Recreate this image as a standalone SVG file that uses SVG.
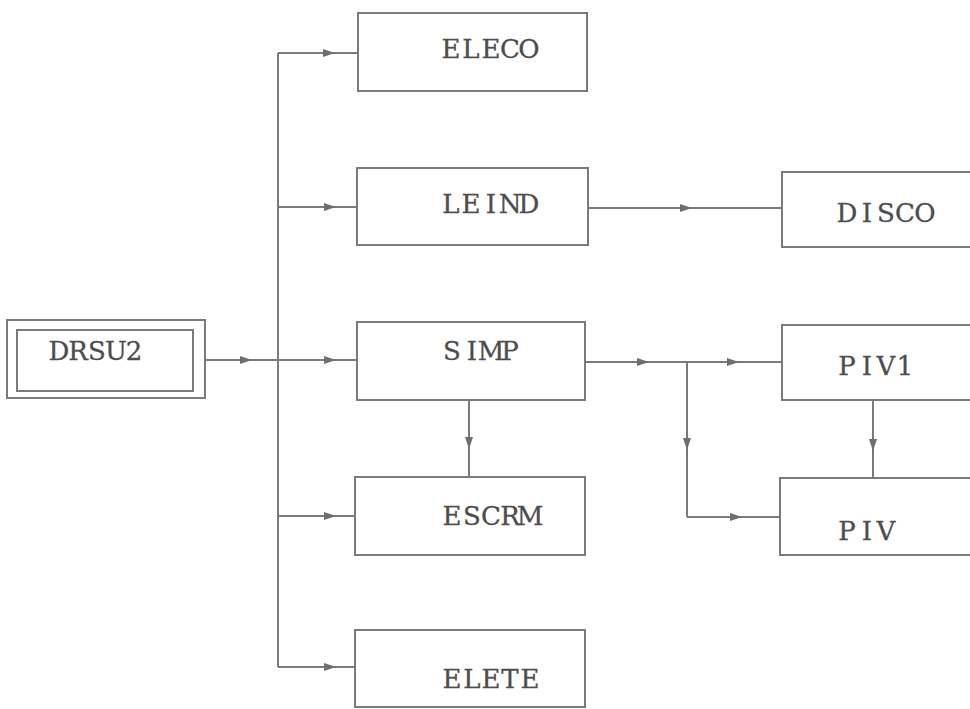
<svg xmlns="http://www.w3.org/2000/svg" width="970" height="709" viewBox="0 0 970 709">
<style>
.box{fill:#fff;stroke:#7a7a7a;stroke-width:2}
.lbl{font-family:"DejaVu Serif","Liberation Serif",serif;font-size:26px;text-anchor:middle;fill:#4d4d4d;stroke:#4d4d4d;stroke-width:0.3}
.con{fill:none;stroke:#7a7a7a;stroke-width:2;marker-mid:url(#ah)}
</style>
<defs>
<marker id="ah" viewBox="0 0 12 8" refX="12" refY="4" markerWidth="12" markerHeight="8" markerUnits="userSpaceOnUse" orient="auto">
<path d="M0,0 L12,4 L0,8 Z" fill="#6e6e6e"/>
</marker>
</defs>
<rect width="970" height="709" fill="#fff"/>
<g id="connectors">
<path d="M278,53 L278,667" fill="none" stroke="#7a7a7a" stroke-width="2"/>
<path class="con" d="M206,360 L252,360 L357,360"/>
<path class="con" d="M278,360 L336,360 L357,360"/>
<path class="con" d="M278,53 L335,53 L358,53"/>
<path class="con" d="M278,207 L336,207 L357,207"/>
<path class="con" d="M278,516 L336,516 L355,516"/>
<path class="con" d="M278,667 L336,667 L355,667"/>
<path class="con" d="M469,400 L469,449 L469,477"/>
<path class="con" d="M588,208 L692,208 L782,208"/>
<path class="con" d="M585,362 L649,362 L687,362"/>
<path class="con" d="M687,362 L739,362 L782,362"/>
<path class="con" d="M687,362 L687,450 L687,517"/>
<path class="con" d="M687,517 L742,517 L780,517"/>
<path class="con" d="M873,400 L873,451 L873,478"/>
</g>
<g id="DRSU2">
<rect class="box" x="7" y="320" width="198" height="78"/>
<rect class="box" x="17" y="330" width="176" height="61"/>
<text class="lbl" x="59 78 97 116 134" y="360">DRSU2</text>
</g>
<g id="ELECO">
<rect class="box" x="358" y="13" width="229" height="78"/>
<text class="lbl" x="451 471 491 510 529" y="58">ELECO</text>
</g>
<g id="LEIND">
<rect class="box" x="357" y="168" width="231" height="77"/>
<text class="lbl" x="451 471 491 510 529" y="213">LEIND</text>
</g>
<g id="SIMP">
<rect class="box" x="357" y="322" width="228" height="78"/>
<text class="lbl" x="452 472 491 510" y="360">SIMP</text>
</g>
<g id="ESCRM">
<rect class="box" x="355" y="477" width="230" height="78"/>
<text class="lbl" x="452 472 491 510 530" y="525">ESCRM</text>
</g>
<g id="ELETE">
<rect class="box" x="355" y="630" width="230" height="77"/>
<text class="lbl" x="452 472 491 510 530" y="688">ELETE</text>
</g>
<g id="DISCO">
<rect class="box" x="782" y="172" width="200" height="75"/>
<text class="lbl" x="847 867 886 905 925" y="222">DISCO</text>
</g>
<g id="PIV1">
<rect class="box" x="782" y="325" width="200" height="75"/>
<text class="lbl" x="847 867 886 905" y="375">PIV1</text>
</g>
<g id="PIV">
<rect class="box" x="780" y="478" width="202" height="77"/>
<text class="lbl" x="847 867 886" y="540">PIV</text>
</g>
</svg>
